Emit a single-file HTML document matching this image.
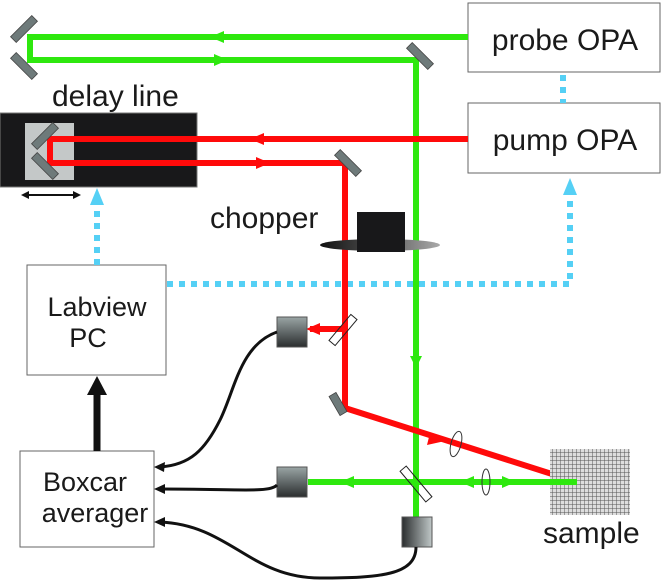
<!DOCTYPE html>
<html><head><meta charset="utf-8"><style>
html,body{margin:0;padding:0;background:#fff;width:664px;height:581px;overflow:hidden}
text{font-family:"Liberation Sans",sans-serif;fill:#1a1a1a}
</style></head><body>
<svg width="664" height="581" viewBox="0 0 664 581" xmlns="http://www.w3.org/2000/svg">
<defs>
<linearGradient id="det" x1="0" y1="0" x2="0" y2="1"><stop offset="0" stop-color="#9aa5a5"/><stop offset="1" stop-color="#2a2d2e"/></linearGradient>
<linearGradient id="det3" x1="0" y1="0" x2="1" y2="0"><stop offset="0" stop-color="#2a2d2e"/><stop offset="1" stop-color="#c0c8c8"/></linearGradient>
<linearGradient id="chop" x1="0" y1="0" x2="1" y2="0"><stop offset="0" stop-color="#111"/><stop offset="0.5" stop-color="#555"/><stop offset="1" stop-color="#aaa"/></linearGradient>
<pattern id="grid" width="4" height="4" patternUnits="userSpaceOnUse"><rect width="4" height="4" fill="#ddd"/><path d="M0 0H4M0 0V4" stroke="#555" stroke-width="1"/></pattern>
</defs>
<rect x="468" y="3" width="192" height="69" fill="#fff" stroke="#666"/>
<text x="565" y="50" font-size="30" text-anchor="middle">probe OPA</text>
<rect x="468" y="103" width="192" height="70" fill="#fff" stroke="#666"/>
<text x="565" y="150" font-size="30" text-anchor="middle">pump OPA</text>
<rect x="27" y="265" width="139" height="110" fill="#fff" stroke="#666"/>
<text x="97" y="316" font-size="27" text-anchor="middle">Labview</text>
<text x="88" y="347" font-size="27" text-anchor="middle">PC</text>
<rect x="20" y="451" width="134" height="96" fill="#fff" stroke="#666"/>
<text x="85" y="491" font-size="27" text-anchor="middle">Boxcar</text>
<text x="95" y="522" font-size="27" text-anchor="middle">averager</text>
<text x="52" y="106" font-size="30">delay line</text>
<text x="210" y="228" font-size="30">chopper</text>
<text x="543" y="543" font-size="30">sample</text>
<g stroke="#55d0f5" stroke-width="6" stroke-dasharray="6 6" fill="none">
<path d="M563 75V103"/>
<path d="M97 265V206"/>
<path d="M167 284H570V196"/>
</g>
<polygon points="97,188 90,205 104,205" fill="#55d0f5"/>
<polygon points="570,178 563,195 577,195" fill="#55d0f5"/>
<rect x="0" y="113" width="197" height="74" fill="#18181a" stroke="#777"/>
<rect x="25" y="123" width="49" height="57" fill="#c4c8c8"/>
<g stroke="#2ee80e" stroke-width="6" fill="none">
<path d="M468 37H30V60H416V482"/>
<path d="M308 482H577"/>
<path d="M416 482V517"/>
</g>
<g fill="#2ee80e">
<polygon points="210,37 224,31 224,43"/>
<polygon points="228,60 214,54 214,66"/>
<polygon points="340,482 354,476 354,488"/>
<polygon points="460,482 474,476 474,488"/>
<polygon points="516,482 502,476 502,488"/>
<polygon points="416,368 410,356 422,356"/>
</g>
<g stroke="#ff0a0a" stroke-width="6" fill="none">
<path d="M468 139H50V163H345V408L577 482"/>
<path d="M343 329H310"/>
</g>
<g fill="#ff0a0a">
<polygon points="250,139 264,133 264,145"/>
<polygon points="270,163 256,157 256,169"/>
<polygon points="445,441 430,433 427,445"/>
<polygon points="306,329 320,323 320,335"/>
</g>
<g fill="#6e7a7a" stroke="#444" stroke-width="0.8">
<rect x="-15" y="-4" width="30" height="8" transform="translate(24,29) rotate(-45)"/>
<rect x="-15" y="-4" width="30" height="8" transform="translate(24,66) rotate(45)"/>
<rect x="-15" y="-4" width="30" height="8" transform="translate(420,56) rotate(45)"/>
<rect x="-15" y="-4" width="30" height="8" transform="translate(45,136) rotate(-45)"/>
<rect x="-15" y="-4" width="30" height="8" transform="translate(45,166) rotate(45)"/>
<rect x="-15" y="-4" width="30" height="8" transform="translate(348,163) rotate(45)"/>
<rect x="-11" y="-4" width="22" height="8" transform="translate(338,404) rotate(60)"/>
</g>
<rect x="-17" y="-4" width="34" height="8" fill="none" stroke="#222" transform="translate(343,330) rotate(-50)"/>
<rect x="-20" y="-4" width="40" height="8" fill="none" stroke="#222" transform="translate(416,484) rotate(50)"/>
<ellipse cx="456" cy="444" rx="5" ry="13" fill="none" stroke="#333" transform="rotate(15 456 444)"/>
<ellipse cx="486" cy="482" rx="4" ry="13" fill="none" stroke="#333"/>
<ellipse cx="380" cy="245" rx="60" ry="6" fill="url(#chop)"/>
<rect x="357" y="212" width="48" height="40" fill="#18181a"/>
<path d="M26 195H76" stroke="#111" stroke-width="2"/>
<polygon points="21,195 29,191 29,199" fill="#111"/>
<polygon points="81,195 73,191 73,199" fill="#111"/>
<rect x="550" y="449" width="80" height="66" fill="url(#grid)"/>
<path d="M545 482H577" stroke="#2ee80e" stroke-width="6"/>
<rect x="277" y="317" width="30" height="30" fill="url(#det)" stroke="#555"/>
<rect x="277" y="467" width="30" height="30" fill="url(#det)" stroke="#555"/>
<rect x="402" y="517" width="30" height="30" fill="url(#det3)" stroke="#555"/>
<g stroke="#111" stroke-width="3" fill="none">
<path d="M277 332C240 345 235 390 220 420C205 450 190 465 160 467"/>
<path d="M277 485C270 493 240 489 160 489"/>
<path d="M416 547C416 575 380 578 320 578C250 578 230 525 160 522"/>
<path d="M97 451V392" stroke-width="7"/>
</g>
<polygon points="97,376 87,395 107,395" fill="#111"/>
<polygon points="154,467 165,462 164,472" fill="#111"/>
<polygon points="154,489 165,484 165,494" fill="#111"/>
<polygon points="154,522 165,517 165,527" fill="#111"/>
</svg>
</body></html>
